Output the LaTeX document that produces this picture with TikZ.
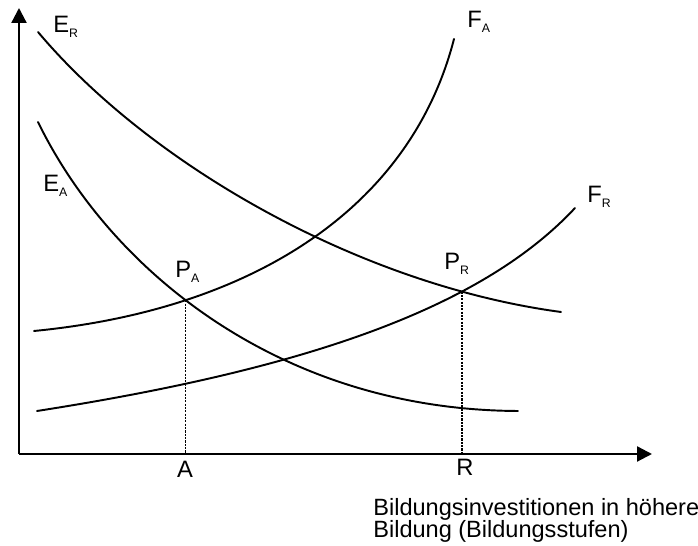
\documentclass[tikz,border=0pt]{standalone}
\usepackage{fontspec}
\setmainfont{Liberation Sans}
\usetikzlibrary{positioning,arrows.meta,intersections}
\tikzset{
  axis/.style={line width=1.3pt, -{Triangle[length=8.5pt,width=8.5pt]}},
  curve/.style={line width=1.1pt, line cap=round},
  drop/.style={line width=0.8pt, dash pattern=on 1.2pt off 0.7pt},
  lbl/.style={inner sep=0pt, anchor=base west, font=\fontsize{13.5}{15}\selectfont},
  tick/.style={inner sep=0pt, anchor=base, font=\fontsize{13.5}{15}\selectfont},
  xlbl/.style={inner sep=0pt, anchor=north west, align=left,
               font=\fontsize{13.4}{12.5}\selectfont},
}
\newcommand{\symb}[2]{#1\raisebox{-2.8pt}{\fontsize{7}{8}\selectfont #2}}

\begin{document}
\begin{tikzpicture}[x=0.02cm, y=-0.02cm]
  \useasboundingbox (0,0) rectangle (698,546);
  % axes
  \coordinate (o) at (19,454);
  \draw[axis] (o) -- (19,8);
  \draw[axis] (o) -- (652,454);
  % curves
  \draw[curve, name path=er] (38,32) .. controls (150,165) and (360,285) .. (561,312);
  \draw[curve, name path=ea] (38,122) .. controls (110,270) and (280,410) .. (518,411);
  \draw[curve, name path=fa] (34,331) .. controls (250,310) and (410,210) .. (454,39);
  \draw[curve, name path=fr] (37,411) .. controls (300,370) and (480,310) .. (575,208);
  % equilibrium points
  \path[name intersections={of=ea and fa, by=pa}];
  \path[name intersections={of=er and fr, by=pr}];
  % drop lines
  \draw[drop] (pa) -- (pa |- o);
  \draw[drop] (pr) -- (pr |- o);
  % labels
  \node[lbl] (erl) at (53,33)   {\symb{E}{R}};
  \node[lbl] (eal) at (43,192)  {\symb{E}{A}};
  \node[lbl] (fal) at (467,28)  {\symb{F}{A}};
  \node[lbl] (frl) at (587,203) {\symb{F}{R}};
  \node[lbl] (pal) at (175,278) {\symb{P}{A}};
  \node[lbl] (prl) at (444,270) {\symb{P}{R}};
  \node[tick] (a) at (185,478) {A};
  \node[tick] (r) at (465,476) {R};
  \node[xlbl] (xt) at (373,498) {Bildungsinvestitionen in höhere\\Bildung (Bildungsstufen)};
\end{tikzpicture}
\end{document}
